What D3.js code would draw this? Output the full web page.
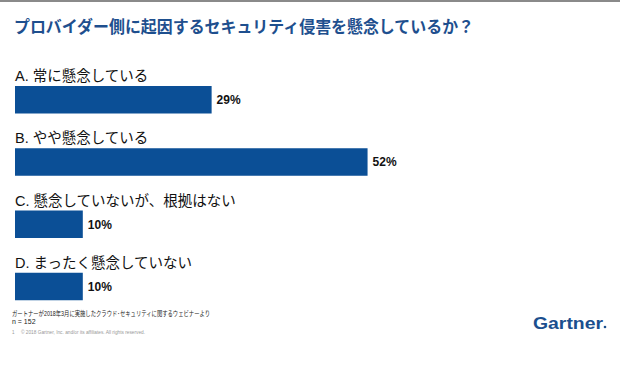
<!DOCTYPE html>
<html><head><meta charset="utf-8">
<script src="https://cdn.jsdelivr.net/npm/d3@7"></script>
<style>
html,body{margin:0;padding:0;background:#fff;}
text{font-family:"Liberation Sans","Noto Sans CJK JP",sans-serif;}
</style></head>
<body>
<script>
const title = "プロバイダー側に起因するセキュリティ侵害を懸念しているか？";
const categories = ["A. 常に懸念している","B. やや懸念している","C. 懸念していないが、根拠はない","D. まったく懸念していない"];
const values = [29, 52, 10, 10];
const footnote = "ガートナーが2018年3月に実施したクラウド･セキュリティに関するウェビナーより";
const sampleSize = "n = 152";
const copyright = "© 2018 Gartner, Inc. and/or its affiliates. All rights reserved.";

const W = 620, H = 376;
const svg = d3.select("body").append("svg").attr("width", W).attr("height", H);

svg.append("rect").attr("x",0).attr("y",0).attr("width",W).attr("height",2).attr("fill","#8a8a8a");

svg.append("text").attr("x",14).attr("y",33)
  .attr("font-size",16.5).attr("font-weight","bold").attr("fill","#1e4f8e")
  .style("font-family","'Noto Sans CJK JP',sans-serif")
  .attr("textLength",460).attr("lengthAdjust","spacingAndGlyphs")
  .text(title);

const x = d3.scaleLinear().domain([0,100]).range([15, 15+678]);
const y = d3.scaleBand().domain(categories).range([64, 313]).padding(0);

const g = svg.append("g");
const rows = g.selectAll("g.row").data(categories.map((c,i)=>({c, v:values[i]}))).join("g").attr("class","row");

rows.append("text").attr("x",15).attr("y",d=>y(d.c)+17)
  .attr("font-size",14.5).attr("fill","#111").text(d=>d.c);

rows.append("rect").attr("x",x(0)).attr("y",d=>y(d.c)+22)
  .attr("width",d=>x(d.v)-x(0)).attr("height",27.5).attr("fill","#0b4f96");

rows.append("text").attr("x",d=>x(d.v)+5).attr("y",d=>y(d.c)+22+14)
  .attr("dominant-baseline","central")
  .attr("font-size",12).attr("font-weight","bold").attr("fill","#111")
  .text(d=>d.v+"%");

svg.append("text").attr("x",12).attr("y",316).attr("font-size",6.8).attr("fill","#222")
  .attr("textLength",198).attr("lengthAdjust","spacingAndGlyphs").text(footnote);
svg.append("text").attr("x",12).attr("y",324).attr("font-size",7).attr("fill","#222").text(sampleSize);
svg.append("text").attr("x",12).attr("y",333.5).attr("font-size",4.5).attr("fill","#999").text("1");
svg.append("text").attr("x",21).attr("y",333.5).attr("font-size",4.5).attr("fill","#999")
  .attr("textLength",124).attr("lengthAdjust","spacingAndGlyphs").text(copyright);

svg.append("text").attr("x",533).attr("y",328.5).attr("font-size",16).attr("font-weight","bold")
  .attr("fill","#1b4f8e").attr("textLength",70).attr("lengthAdjust","spacingAndGlyphs").text("Gartner");
svg.append("circle").attr("cx",605).attr("cy",327).attr("r",1.3).attr("fill","#1b4f8e");
</script>
</body></html>
